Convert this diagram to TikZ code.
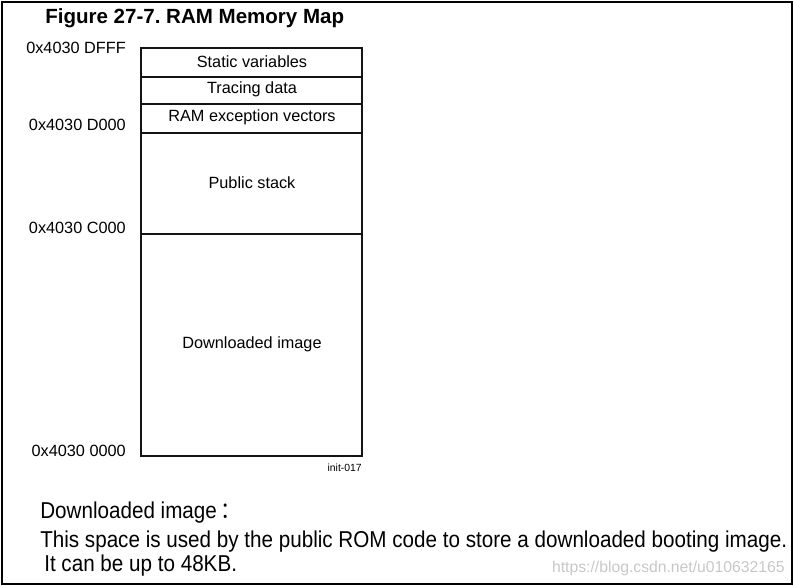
\documentclass[tikz,border=0pt]{standalone}
\usepackage{fontspec}
\setmainfont{Liberation Sans}
\newfontfamily\cjk{Noto Sans CJK SC}
\usepackage{tikz}
\colorlet{mapLine}{black!92}
\colorlet{watermark}{black!22}
\frenchspacing

\begin{document}
\begin{tikzpicture}[
  x=0.75pt, y=-0.75pt,
  frame/.style={
    draw=black,
    line width=1.6pt,
  },
  mapbox/.style={
    draw=mapLine,
    line width=1.9pt,
  },
  divider/.style={
    draw=mapLine,
    line width=1.3pt,
  },
  region/.style={
    font=\fontsize{12.2}{14}\selectfont,
    inner sep=0pt,
  },
  address/.style={
    font=\fontsize{12.2}{14}\selectfont,
    anchor=east,
    inner sep=0pt,
  },
  note/.style={
    font=\fontsize{17.2}{20}\selectfont,
    anchor=west,
    inner sep=0pt,
  }
]
\useasboundingbox (0,0) rectangle (794,586);
\draw[frame] (2,2) rectangle (792,584);

\node[font=\bfseries\fontsize{15.4}{18}\selectfont,anchor=west,inner sep=0pt]
  (title) at (45,18) {Figure 27-7. RAM Memory Map};

% memory regions
\foreach \top/\bot/\txt/\nm in {48/77/Static variables/static,
    77/104/Tracing data/tracing,
    104/133/RAM exception vectors/ramvec,
    133/234/Public stack/stack,
    234/456/Downloaded image/image} {
  \draw[divider] (141,\bot) -- (362,\bot);
  \node[region] (\nm) at (252,{(\top+\bot)/2-1}) {\txt};
}
\draw[mapbox] (141,48) rectangle (362,456);

\foreach \y/\addr/\nm in {48/DFFF/adfff, 125/D000/ad000, 228/C000/ac000, 451/0000/a0000} {
  \node[address] (\nm) at (126,\y) {0x4030 \addr};
}
\node[font=\fontsize{7.8}{9}\selectfont,anchor=east,inner sep=0pt] (fig) at (362,468) {init-017};

% note below the map
\node[note] (notehead) at (40,513) {\scalebox{0.9}[1]{Downloaded image\,{\cjk ：}}};
\node[note] (noteline1) at (40,542) {\scalebox{0.9}[1]{This space is used by the public ROM code to store a downloaded booting image.}};
\node[note] (noteline2) at (44,566) {\scalebox{0.9}[1]{It can be up to 48KB.}};
\node[font=\fontsize{11.8}{14}\selectfont,text=watermark,anchor=east,inner sep=0pt]
  (wm) at (785,568) {https://blog.csdn.net/u010632165};
\end{tikzpicture}
\end{document}
